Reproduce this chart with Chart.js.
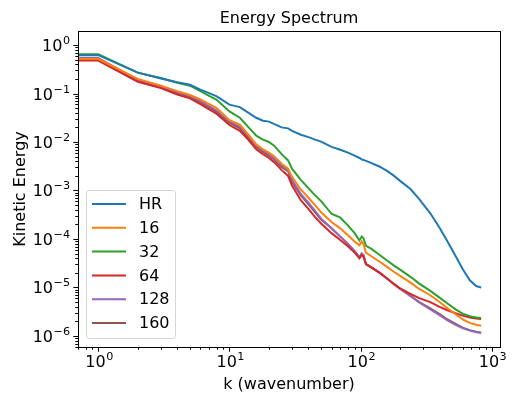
<!DOCTYPE html>
<html><head><meta charset="utf-8">
<script src="https://cdn.jsdelivr.net/npm/chart.js@4/dist/chart.umd.min.js"></script>
<style>html,body{margin:0;padding:0;background:#fff;}canvas{display:block;}</style>
</head><body>
<canvas id="c" width="517" height="394"></canvas>
<script>
// ---- data ----
const k = [0,1,2,3,4,5,6,7,8,10,12,14,16,18,20,22,25,28,30,35,40,45,50,60,70,80,90,98,102,105,110,120,140,160,180,200,240,280,340,400,460,530,600,680,760,830];
const hr = [6.17e-1,6.17e-1,2.69e-1,2.04e-1,1.70e-1,1.51e-1,1.20e-1,1.02e-1,8.71e-2,
  5.89e-2,5.25e-2,3.98e-2,3.16e-2,2.75e-2,2.63e-2,2.34e-2,
  2.00e-2,1.91e-2,1.70e-2,1.41e-2,1.26e-2,1.12e-2,1.02e-2,
  7.94e-3,6.92e-3,6.03e-3,5.25e-3,4.68e-3,4.37e-3,4.27e-3,4.07e-3,3.72e-3,
  3.09e-3,2.51e-3,2.00e-3,1.58e-3,1.07e-3,6.61e-4,3.39e-4,1.70e-4,8.91e-5,4.47e-5,2.40e-5,1.41e-5,1.07e-5,1.00e-5];
const s16 = [5.13e-1,5.13e-1,2.00e-1,1.45e-1,1.12e-1,9.33e-2,7.59e-2,6.03e-2,5.01e-2,
  2.82e-2,2.29e-2,1.41e-2,8.91e-3,7.08e-3,6.03e-3,5.01e-3,
  3.55e-3,2.82e-3,1.91e-3,1.05e-3,7.08e-4,5.01e-4,3.55e-4,
  2.24e-4,1.66e-4,1.20e-4,8.91e-5,7.41e-5,8.91e-5,7.94e-5,5.25e-5,4.47e-5,
  3.39e-5,2.63e-5,2.09e-5,1.74e-5,1.26e-5,9.33e-6,6.92e-6,5.01e-6,3.72e-6,2.82e-6,2.19e-6,1.86e-6,1.70e-6,1.62e-6];
const s32 = [6.46e-1,6.46e-1,2.69e-1,2.09e-1,1.66e-1,1.45e-1,1.12e-1,8.91e-2,7.41e-2,
  4.27e-2,3.16e-2,2.00e-2,1.35e-2,1.12e-2,1.00e-2,8.32e-3,
  5.62e-3,4.17e-3,2.82e-3,1.66e-3,1.12e-3,7.94e-4,6.03e-4,
  3.31e-4,2.75e-4,1.91e-4,1.32e-4,9.33e-5,1.12e-4,1.05e-4,7.24e-5,6.31e-5,
  4.68e-5,3.55e-5,2.82e-5,2.34e-5,1.66e-5,1.20e-5,8.51e-6,6.17e-6,4.68e-6,3.55e-6,2.88e-6,2.57e-6,2.40e-6,2.34e-6];
const s64 = [4.79e-1,4.79e-1,1.74e-1,1.29e-1,9.55e-2,7.94e-2,6.03e-2,4.68e-2,3.80e-2,
  2.24e-2,1.70e-2,1.10e-2,7.08e-3,5.62e-3,4.68e-3,3.80e-3,
  2.63e-3,2.00e-3,1.26e-3,6.31e-4,4.17e-4,2.82e-4,2.09e-4,
  1.32e-4,9.55e-5,7.08e-5,5.25e-5,3.98e-5,4.68e-5,4.37e-5,3.02e-5,2.63e-5,
  2.00e-5,1.51e-5,1.17e-5,9.55e-6,7.41e-6,6.03e-6,5.01e-6,3.98e-6,3.39e-6,2.95e-6,2.63e-6,2.40e-6,2.29e-6,2.24e-6];
const s128 = [5.37e-1,5.37e-1,1.91e-1,1.41e-1,1.07e-1,8.91e-2,7.08e-2,5.50e-2,4.47e-2,
  2.69e-2,2.09e-2,1.32e-2,8.51e-3,6.76e-3,5.62e-3,4.47e-3,
  3.31e-3,2.63e-3,1.66e-3,8.51e-4,5.62e-4,3.80e-4,2.63e-4,
  1.66e-4,1.12e-4,7.94e-5,5.62e-5,4.17e-5,5.01e-5,4.68e-5,3.02e-5,2.63e-5,
  2.00e-5,1.51e-5,1.17e-5,9.33e-6,6.61e-6,4.90e-6,3.55e-6,2.69e-6,2.09e-6,1.70e-6,1.45e-6,1.29e-6,1.20e-6,1.17e-6];
const s160 = [4.90e-1,4.90e-1,1.82e-1,1.35e-1,1.02e-1,8.51e-2,6.61e-2,5.13e-2,4.17e-2,
  2.51e-2,1.91e-2,1.20e-2,7.94e-3,6.31e-3,5.25e-3,4.27e-3,
  3.02e-3,2.51e-3,1.51e-3,7.94e-4,5.25e-4,3.55e-4,2.51e-4,
  1.66e-4,1.12e-4,7.94e-5,5.62e-5,4.17e-5,5.01e-5,4.68e-5,3.02e-5,2.63e-5,
  2.00e-5,1.51e-5,1.17e-5,9.55e-6,6.76e-6,5.01e-6,3.72e-6,2.82e-6,2.19e-6,1.78e-6,1.48e-6,1.32e-6,1.23e-6,1.17e-6];
const seriesLabels = ['HR','16','32','64','128','160'];
const seriesValues = [hr, s16, s32, s64, s128, s160];
const seriesColors = ['#1f77b4','#ff7f0e','#2ca02c','#d62728','#9467bd','#8c564b'];
const xTickValues = [1,10,100,1000];
const xTickExps = ['0','1','2','3'];
const yTickValues = [1e-6,1e-5,1e-4,1e-3,1e-2,1e-1,1];
const yTickExps = ['\u22126','\u22125','\u22124','\u22123','\u22122','\u22121','0'];
const tickBase = '10';
const titleText = 'Energy Spectrum';
const xTitle = 'k (wavenumber)';
const yTitle = 'Kinetic Energy';

const FONT = '"DejaVu Sans", sans-serif';

function minorTicks(min, max) {
  const out = [];
  for (let e = Math.floor(Math.log10(min)); e <= Math.ceil(Math.log10(max)); e++) {
    for (let m = 2; m <= 9; m++) {
      const v = m * Math.pow(10, e);
      if (v >= min && v <= max) out.push(v);
    }
  }
  return out;
}

function drawSci(ctx, exp, x, y, align) {
  ctx.font = '16px ' + FONT;
  const w1 = ctx.measureText(tickBase).width;
  ctx.font = '11.2px ' + FONT;
  const w2 = ctx.measureText(exp).width;
  const total = w1 + 0.5 + w2;
  let sx = align === 'center' ? x - total / 2 : x - total;
  ctx.textAlign = 'left';
  ctx.textBaseline = 'alphabetic';
  ctx.font = '16px ' + FONT;
  ctx.fillText(tickBase, sx, y);
  ctx.font = '11.2px ' + FONT;
  ctx.fillText(exp, sx + w1 + 0.5, y - 7);
}

const deco = {
  id: 'deco',
  afterDraw(chart) {
    const ctx = chart.ctx, a = chart.chartArea, xs = chart.scales.x, ys = chart.scales.y;
    ctx.save();
    ctx.strokeStyle = '#000';
    ctx.lineWidth = 1;
    const MAJ = 4.7, MIN = 2.7;
    ctx.beginPath();
    xTickValues.forEach(v => { const p = Math.round(xs.getPixelForValue(v)) + 0.5; ctx.moveTo(p, a.bottom); ctx.lineTo(p, a.bottom + MAJ); });
    minorTicks(xs.min, xs.max).forEach(v => { const p = Math.round(xs.getPixelForValue(v)) + 0.5; ctx.moveTo(p, a.bottom); ctx.lineTo(p, a.bottom + MIN); });
    yTickValues.forEach(v => { const p = Math.round(ys.getPixelForValue(v)) + 0.5; ctx.moveTo(a.left, p); ctx.lineTo(a.left - MAJ, p); });
    minorTicks(ys.min, ys.max).forEach(v => { const p = Math.round(ys.getPixelForValue(v)) + 0.5; ctx.moveTo(a.left, p); ctx.lineTo(a.left - MIN, p); });
    ctx.stroke();
    ctx.strokeRect(Math.round(a.left) + 0.5, Math.round(a.top) + 0.5, Math.round(a.right - a.left), Math.round(a.bottom - a.top));
    ctx.fillStyle = '#000';
    xTickValues.forEach((v, i) => drawSci(ctx, xTickExps[i], xs.getPixelForValue(v) + 1, a.bottom + 20, 'center'));
    yTickValues.forEach((v, i) => drawSci(ctx, yTickExps[i], a.left - 8, ys.getPixelForValue(v) + 6, 'right'));
    ctx.textAlign = 'center';
    ctx.textBaseline = 'alphabetic';
    ctx.font = '16px ' + FONT;
    ctx.fillText(titleText, (a.left + a.right) / 2, a.top - 8);
    ctx.fillText(xTitle, (a.left + a.right) / 2, 389);
    ctx.save();
    ctx.translate(25, (a.top + a.bottom) / 2);
    ctx.rotate(-Math.PI / 2);
    ctx.fillText(yTitle, 0, 0);
    ctx.restore();
    // legend
    const lx = 86.5, ly = 190.5, lw = 89, lh = 148, r = 3;
    ctx.beginPath();
    ctx.moveTo(lx + r, ly);
    ctx.lineTo(lx + lw - r, ly); ctx.arcTo(lx + lw, ly, lx + lw, ly + r, r);
    ctx.lineTo(lx + lw, ly + lh - r); ctx.arcTo(lx + lw, ly + lh, lx + lw - r, ly + lh, r);
    ctx.lineTo(lx + r, ly + lh); ctx.arcTo(lx, ly + lh, lx, ly + lh - r, r);
    ctx.lineTo(lx, ly + r); ctx.arcTo(lx, ly, lx + r, ly, r);
    ctx.closePath();
    ctx.fillStyle = 'rgba(255,255,255,0.8)';
    ctx.fill();
    ctx.strokeStyle = 'rgba(204,204,204,0.8)';
    ctx.lineWidth = 1;
    ctx.stroke();
    ctx.font = '16px ' + FONT;
    ctx.textAlign = 'left';
    ctx.textBaseline = 'middle';
    chart.data.datasets.forEach((ds, i) => {
      const y = 204 + i * 23.8;
      ctx.strokeStyle = ds.borderColor;
      ctx.lineWidth = 2;
      ctx.beginPath(); ctx.moveTo(92, y); ctx.lineTo(126, y); ctx.stroke();
      ctx.fillStyle = '#000';
      ctx.fillText(ds.label, 139, y + 1);
    });
    ctx.restore();
  }
};

new Chart(document.getElementById('c'), {
  type: 'line',
  data: {
    datasets: seriesLabels.map((lab, i) => ({
      label: lab,
      data: k.map((kv, j) => ({ x: kv, y: seriesValues[i][j] })),
      borderColor: seriesColors[i],
      backgroundColor: seriesColors[i],
      borderWidth: 2,
      pointRadius: 0,
      tension: 0,
      fill: false
    }))
  },
  options: {
    responsive: false,
    animation: false,
    devicePixelRatio: 1,
    layout: { padding: { top: 31, right: 17, left: 0, bottom: 0 } },
    plugins: { legend: { display: false }, title: { display: false }, tooltip: { enabled: false } },
    scales: {
      x: {
        type: 'logarithmic', min: 0.7131, max: 1156,
        grid: { display: false }, border: { display: false },
        ticks: { display: false },
        afterFit: s => { s.height = 47; }
      },
      y: {
        type: 'logarithmic', min: 5.93e-7, max: 1.944,
        grid: { display: false }, border: { display: false },
        ticks: { display: false },
        afterFit: s => { s.width = 78; }
      }
    }
  },
  plugins: [deco]
});
</script>
</body></html>
